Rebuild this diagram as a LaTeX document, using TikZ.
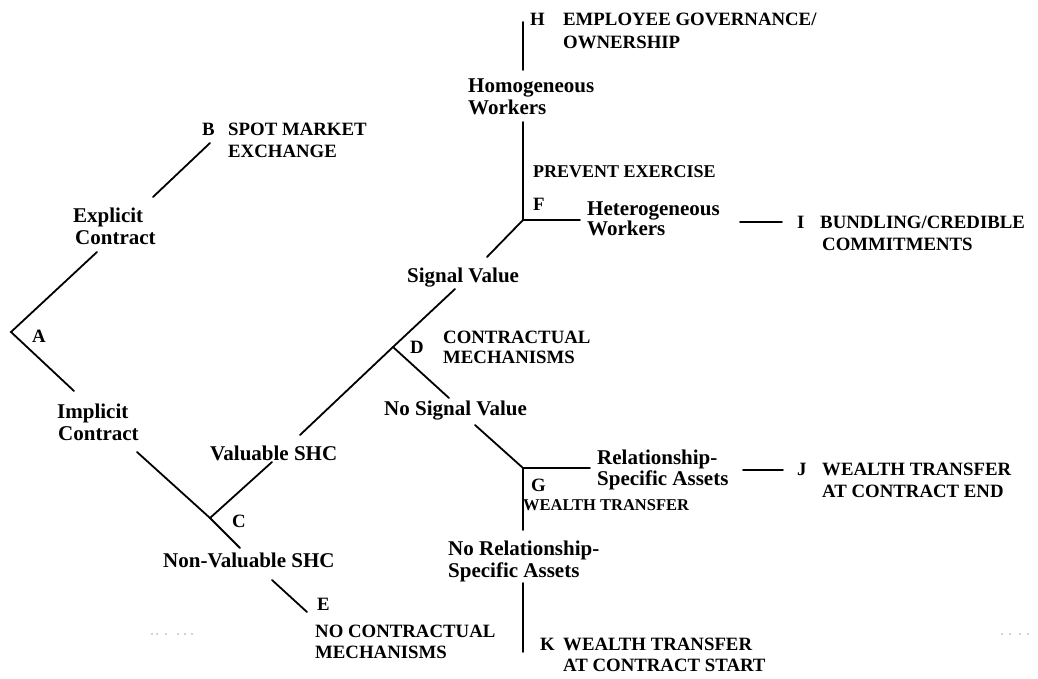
\documentclass[tikz,border=0pt]{standalone}
\usepackage{fontspec}
\setmainfont{Liberation Serif}
\begin{document}
\begin{tikzpicture}[x=1pt,y=-1pt,
  capt/.style={anchor=base west, inner sep=0pt, font=\bfseries\fontsize{18.8}{21}\selectfont},
  smallcapt/.style={anchor=base west, inner sep=0pt, font=\bfseries\fontsize{16.5}{19}\selectfont},
  midcapt/.style={anchor=base west, inner sep=0pt, font=\bfseries\fontsize{18}{20}\selectfont},
  lowt/.style={anchor=base west, inner sep=0pt, font=\bfseries\fontsize{21}{23}\selectfont},
  ln/.style={line width=1.8pt, line cap=round, line join=miter},
  speck/.style={fill=black!35, draw=none}]
\useasboundingbox (0,0) rectangle (1038,678);
% ---- branch points and connector ends ----
\coordinate (A) at (11,332);
\coordinate (aU) at (97,252);
\coordinate (aL) at (74,391);
\coordinate (exB1) at (153,197);
\coordinate (exB2) at (210,143);
\coordinate (im1) at (137,452);
\coordinate (C) at (210,518);
\coordinate (nv) at (240,548);
\coordinate (val1) at (272,462);
\coordinate (E1) at (272,580);
\coordinate (E2) at (307,612);
\coordinate (val2) at (300,435);
\coordinate (D) at (393,347);
\coordinate (sv1) at (455,289);
\coordinate (ns1) at (449,398);
\coordinate (sv2) at (487,257);
\coordinate (F) at (523,220);
\coordinate (hw1) at (523,122);
\coordinate (hw2) at (523,70);
\coordinate (H0) at (523,22);
\coordinate (Fh) at (580,220);
\coordinate (I1) at (740,222);
\coordinate (I2) at (782,222);
\coordinate (ns2) at (475,425);
\coordinate (G) at (523,468);
\coordinate (Gh) at (590,468);
\coordinate (J1) at (743,470);
\coordinate (J2) at (783,470);
\coordinate (Gd) at (523,530);
\coordinate (K1) at (523,583);
\coordinate (K2) at (523,652);
% ---- connectors ----
\draw[ln] (aU) -- (A) -- (aL);
\draw[ln] (exB1) -- (exB2);
\draw[ln] (im1) -- (C) -- (nv);
\draw[ln] (C) -- (val1);
\draw[ln] (E1) -- (E2);
\draw[ln] (val2) -- (D) -- (sv1);
\draw[ln] (D) -- (ns1);
\draw[ln] (sv2) -- (F) -- (hw1);
\draw[ln] (hw2) -- (H0);
\draw[ln] (F) -- (Fh);
\draw[ln] (I1) -- (I2);
\draw[ln] (ns2) -- (G) -- (Gh);
\draw[ln] (G) -- (Gd);
\draw[ln] (J1) -- (J2);
\draw[ln] (K1) -- (K2);
% ---- labels ----
\node[capt] (tA) at (32,342) {A};
\node[capt] (tB) at (202,135) {B};
\node[capt] (tB1) at (228,135) {SPOT MARKET};
\node[capt] (tB2) at (228,157) {EXCHANGE};
\node[lowt] (tEx1) at (73,222) {Explicit};
\node[lowt] (tEx2) at (75,244) {Contract};
\node[lowt] (tIm1) at (57,418) {Implicit};
\node[lowt] (tIm2) at (58,440) {Contract};
\node[capt] (tC) at (232,527) {C};
\node[lowt] (tVal) at (210,460) {Valuable SHC};
\node[lowt] (tNV) at (163,567) {Non-Valuable SHC};
\node[capt] (tE) at (317,610) {E};
\node[capt] (tE1) at (315,637) {NO CONTRACTUAL};
\node[capt] (tE2) at (315,658) {MECHANISMS};
\node[lowt] (tSV) at (407,282) {Signal Value};
\node[capt] (tD) at (410,353) {D};
\node[capt] (tD1) at (443,343) {CONTRACTUAL};
\node[capt] (tD2) at (443,363) {MECHANISMS};
\node[lowt] (tNSV) at (384,415) {No Signal Value};
\node[lowt] (tHo1) at (468,92) {Homogeneous};
\node[lowt] (tHo2) at (468,114) {Workers};
\node[capt] (tH) at (530,25) {H};
\node[capt] (tH1) at (563,25) {EMPLOYEE GOVERNANCE/};
\node[capt] (tH2) at (563,48) {OWNERSHIP};
\node[midcapt] (tPE) at (533,177) {PREVENT EXERCISE};
\node[capt] (tF) at (533,210) {F};
\node[lowt] (tHe1) at (587,215) {Heterogeneous};
\node[lowt] (tHe2) at (587,235) {Workers};
\node[capt] (tI) at (797,228) {I};
\node[capt] (tI1) at (820,228) {BUNDLING/CREDIBLE};
\node[capt] (tI2) at (822,250) {COMMITMENTS};
\node[lowt] (tRel1) at (597,464) {Relationship-};
\node[lowt] (tRel2) at (597,485) {Specific Assets};
\node[capt] (tG) at (531,491) {G};
\node[smallcapt] (tGW) at (523,510) {WEALTH TRANSFER};
\node[capt] (tJ) at (797,475) {J};
\node[capt] (tJ1) at (822,475) {WEALTH TRANSFER};
\node[capt] (tJ2) at (822,497) {AT CONTRACT END};
\node[lowt] (tNR1) at (448,555) {No Relationship-};
\node[lowt] (tNR2) at (448,577) {Specific Assets};
\node[capt] (tK) at (540,650) {K};
\node[capt] (tK1) at (563,650) {WEALTH TRANSFER};
\node[capt] (tK2) at (563,671) {AT CONTRACT START};
% ---- faint scan specks ----
\foreach \sx in {152,157,166,178,185,192,1002,1010,1020,1028}
  \fill[speck] (\sx,634) circle (0.8);
\end{tikzpicture}
\end{document}
